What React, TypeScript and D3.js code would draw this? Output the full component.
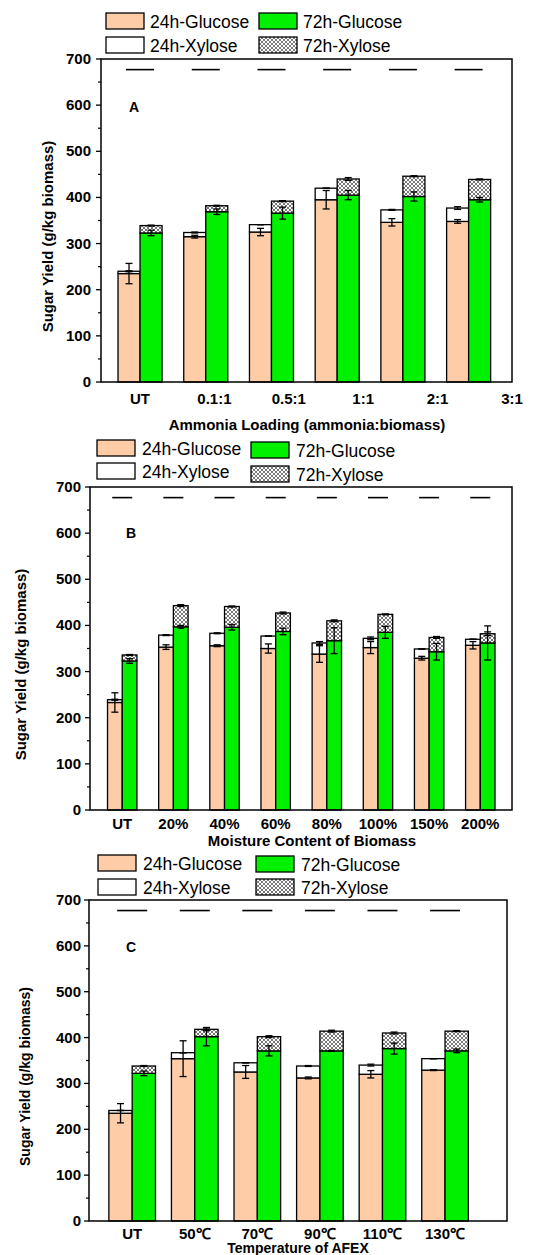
import React from 'react';
import * as d3 from 'd3';

// ---- data: panel A (ammonia loading)
const catsA = ['UT', '0.1:1', '0.5:1', '1:1', '2:1', '3:1'];
const glu24A = [235, 315, 325, 395, 346, 348];
const xyl24A = [5, 9, 16, 25, 27, 29];
const glu72A = [323, 369, 366, 405, 402, 395];
const xyl72A = [16, 13, 26, 35, 44, 44];
const eGlu24A = [22, 3, 8, 20, 8, 4];
const eXyl24A = [1, 1, 0, 0, 1, 3];
const eGlu72A = [6, 6, 13, 10, 10, 5];
const eXyl72A = [1, 1, 1, 3, 1, 1];

// ---- data: panel B (moisture content)
const catsB = ['UT', '20%', '40%', '60%', '80%', '100%', '150%', '200%'];
const glu24B = [233, 353, 356, 350, 338, 352, 329, 357];
const xyl24B = [6, 26, 27, 27, 24, 20, 20, 13];
const glu72B = [323, 397, 396, 387, 367, 385, 343, 362];
const xyl72B = [13, 46, 45, 40, 43, 39, 31, 20];
const eGlu24B = [21, 5, 2, 10, 18, 13, 4, 8];
const eXyl24B = [1, 1, 1, 0, 3, 3, 0, 0];
const eGlu72B = [5, 3, 6, 7, 28, 13, 18, 37];
const eXyl72B = [1, 2, 1, 2, 2, 1, 2, 4];

// ---- data: panel C (temperature)
const catsC = ['UT', '50℃', '70℃', '90℃', '110℃', '130℃'];
const glu24C = [235, 354, 325, 312, 320, 329];
const xyl24C = [6, 13, 20, 26, 20, 25];
const glu72C = [322, 402, 371, 371, 376, 371];
const xyl72C = [16, 16, 31, 43, 34, 43];
const eGlu24C = [21, 39, 14, 2, 8, 1];
const eXyl24C = [0, 0, 0, 1, 2, 0];
const eGlu72C = [5, 20, 11, 1, 12, 4];
const eXyl72C = [1, 3, 2, 2, 2, 1];

const refLine = 677; // short dashes near the top of each panel
const legendNames = ['24h-Glucose', '72h-Glucose', '24h-Xylose', '72h-Xylose'];

const PEACH = '#ffcca8';
const GREEN = '#00f000';
const FONT = '"Liberation Sans", Arial, sans-serif';

interface PanelProps {
  tag: string;
  cats: string[];
  glu24: number[];
  xyl24: number[];
  glu72: number[];
  xyl72: number[];
  eGlu24: number[];
  eXyl24: number[];
  eGlu72: number[];
  eXyl72: number[];
  xTitle: string;
  lay: {
    left: number; right: number; top: number; bottom: number;
    lo: number; hi: number; pair: number; dash: number;
    spread?: number; // labels spread evenly from first group to this index
    tickY: number; titleY: number; titleX: number;
    yLabX: number; yTitleX: number; yTitleSize: number; titleSize: number;
    legX: number[]; legTextX: number[]; legY: number[][];
    tagX: number; tagY: number;
  };
}

const Panel: React.FC<PanelProps> = (p) => {
  const L = p.lay;
  const x = d3.scaleLinear().domain([L.lo, L.hi]).range([L.left, L.right]);
  const y = d3.scaleLinear().domain([0, 700]).range([L.bottom, L.top]);
  const step = x(1) - x(0);
  const w = (step * L.pair) / 2;
  const n = p.cats.length;
  const labelX = d3
    .scaleLinear()
    .domain([0, n - 1])
    .range([x(0), x(L.spread ?? n - 1)]);

  const errBar = (cx: number, v: number, e: number, key: string) => (
    <g key={key} stroke="#000" strokeWidth={1.3}>
      <line x1={cx} x2={cx} y1={y(v - e)} y2={y(v + e)} />
      <line x1={cx - 3.5} x2={cx + 3.5} y1={y(v - e)} y2={y(v - e)} />
      <line x1={cx - 3.5} x2={cx + 3.5} y1={y(v + e)} y2={y(v + e)} />
    </g>
  );

  const majors = d3.range(0, 701, 100);
  const minors = d3.range(50, 700, 100);
  const fills = [PEACH, GREEN, '#fff', 'url(#hatch)'];

  return (
    <g fontFamily={FONT}>
      {/* legend */}
      {legendNames.map((nm, i) => {
        const col = i % 2;
        const row = Math.floor(i / 2);
        const by = L.legY[col][row];
        return (
          <g key={nm}>
            <rect x={L.legX[col]} y={by} width={38} height={16} fill={fills[i]} stroke="#000" strokeWidth={1.3} />
            <text x={L.legTextX[col]} y={by + 14.5} fontSize={17.5}>{nm}</text>
          </g>
        );
      })}

      {/* bars */}
      {p.cats.map((c, i) => {
        const cx = x(i);
        const g24 = p.glu24[i];
        const t24 = g24 + p.xyl24[i];
        const g72 = p.glu72[i];
        const t72 = g72 + p.xyl72[i];
        return (
          <g key={c} stroke="#000" strokeWidth={1.3}>
            <rect x={cx - w} width={w} y={y(g24)} height={y(0) - y(g24)} fill={PEACH} />
            <rect x={cx - w} width={w} y={y(t24)} height={y(g24) - y(t24)} fill="#fff" />
            <rect x={cx} width={w} y={y(g72)} height={y(0) - y(g72)} fill={GREEN} />
            <rect x={cx} width={w} y={y(t72)} height={y(g72) - y(t72)} fill="url(#hatch)" />
            {errBar(cx - w / 2, g24, p.eGlu24[i], 'a')}
            {errBar(cx - w / 2, t24, p.eXyl24[i], 'b')}
            {errBar(cx + w / 2, g72, p.eGlu72[i], 'c')}
            {errBar(cx + w / 2, t72, p.eXyl72[i], 'd')}
            <line x1={cx - L.dash / 2} x2={cx + L.dash / 2} y1={y(refLine)} y2={y(refLine)} strokeWidth={1.6} />
          </g>
        );
      })}

      {/* frame */}
      <rect x={L.left} y={L.top} width={L.right - L.left} height={L.bottom - L.top} fill="none" stroke="#000" strokeWidth={1.5} />

      {/* y axis */}
      {majors.map((v) => (
        <g key={v}>
          <line x1={L.left - 5} x2={L.left} y1={y(v)} y2={y(v)} stroke="#000" strokeWidth={1.3} />
          <text x={L.yLabX} y={y(v) + 5} textAnchor="end" fontSize={15} fontWeight="bold">{v}</text>
        </g>
      ))}
      {minors.map((v) => (
        <line key={v} x1={L.left - 3} x2={L.left} y1={y(v)} y2={y(v)} stroke="#000" strokeWidth={1.2} />
      ))}
      <text
        transform={`translate(${L.yTitleX},${(L.top + L.bottom) / 2 + 16}) rotate(-90)`}
        textAnchor="middle"
        fontSize={L.yTitleSize}
        fontWeight="bold"
      >
        Sugar Yield (g/kg biomass)
      </text>

      {/* x labels */}
      {p.cats.map((c, i) => (
        <text key={c} x={labelX(i)} y={L.tickY} textAnchor="middle" fontSize={15} fontWeight="bold">{c}</text>
      ))}
      <text x={L.titleX} y={L.titleY} textAnchor="middle" fontSize={L.titleSize} fontWeight="bold">{p.xTitle}</text>

      <text x={L.tagX} y={L.tagY} fontSize={14} fontWeight="bold">{p.tag}</text>
    </g>
  );
};

export default function App() {
  return (
    <svg width={549} height={1255} style={{ position: 'absolute', left: 0, top: 0, background: '#fff' }}>
      <defs>
        <pattern id="hatch" width={4} height={4} patternUnits="userSpaceOnUse">
          <rect width={4} height={4} fill="#fff" />
          <path d="M0,0 L4,4 M4,0 L0,4" stroke="#555" strokeWidth={0.8} />
        </pattern>
      </defs>
      <rect width={549} height={1255} fill="#fff" />
      <Panel
        tag="A" cats={catsA} glu24={glu24A} xyl24={xyl24A} glu72={glu72A} xyl72={xyl72A}
        eGlu24={eGlu24A} eXyl24={eXyl24A} eGlu72={eGlu72A} eXyl72={eXyl72A}
        xTitle="Ammonia Loading (ammonia:biomass)"
        lay={{
          left: 101, right: 512, top: 59, bottom: 382, lo: -0.594, hi: 5.66, pair: 0.67, dash: 28,
          spread: 5.66, tickY: 404, titleY: 430, titleX: 307, yLabX: 91, yTitleX: 53, yTitleSize: 15, titleSize: 15,
          legX: [106, 259], legTextX: [150, 303], legY: [[13, 37], [13, 37]], tagX: 129, tagY: 112,
        }}
      />
      <Panel
        tag="B" cats={catsB} glu24={glu24B} xyl24={xyl24B} glu72={glu72B} xyl72={xyl72B}
        eGlu24={eGlu24B} eXyl24={eXyl24B} eGlu72={eGlu72B} eXyl72={eXyl72B}
        xTitle="Moisture Content of Biomass"
        lay={{
          left: 90, right: 512, top: 487, bottom: 810, lo: -0.63, hi: 7.62, pair: 0.575, dash: 20,
          tickY: 829, titleY: 846, titleX: 312, yLabX: 81, yTitleX: 26, yTitleSize: 15, titleSize: 15,
          legX: [97, 251], legTextX: [142, 296], legY: [[440, 463], [442, 466]], tagX: 126, tagY: 538,
        }}
      />
      <Panel
        tag="C" cats={catsC} glu24={glu24C} xyl24={xyl24C} glu72={glu72C} xyl72={xyl72C}
        eGlu24={eGlu24C} eXyl24={eXyl24C} eGlu72={eGlu72C} eXyl72={eXyl72C}
        xTitle="Temperature of AFEX"
        lay={{
          left: 89, right: 507, top: 900, bottom: 1221, lo: -0.69, hi: 5.99, pair: 0.745, dash: 30,
          tickY: 1239, titleY: 1253, titleX: 298, yLabX: 81, yTitleX: 30, yTitleSize: 14, titleSize: 14,
          legX: [98, 256], legTextX: [143, 301], legY: [[855, 879], [856, 879]], tagX: 126, tagY: 952,
        }}
      />
    </svg>
  );
}
